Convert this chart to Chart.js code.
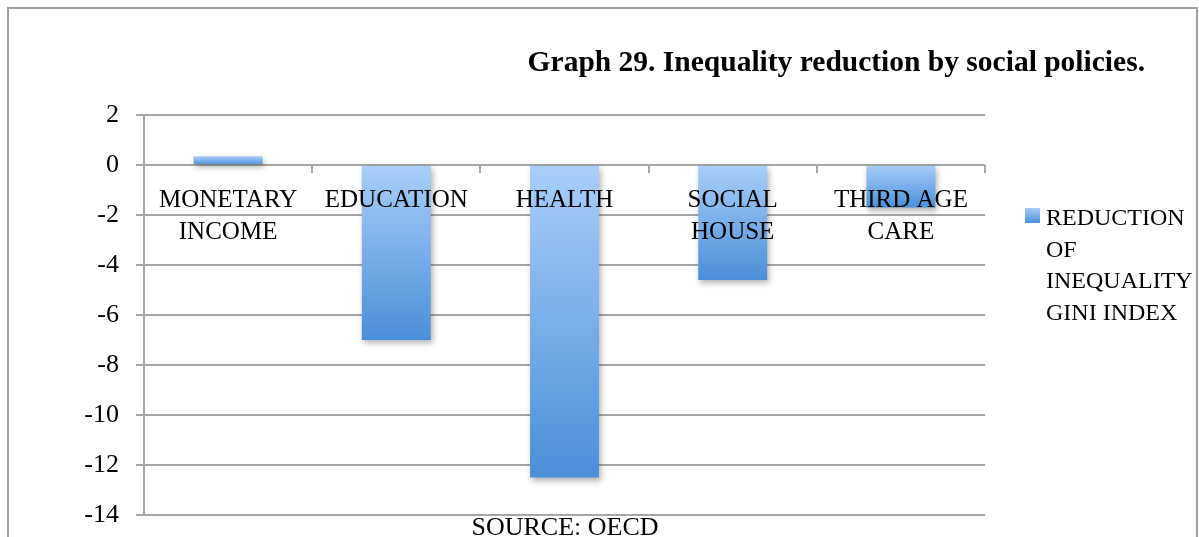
<!DOCTYPE html>
<html>
<head>
<meta charset="utf-8">
<script src="https://cdn.jsdelivr.net/npm/chart.js@4.4.1/dist/chart.umd.min.js"></script>
<style>
    body { margin: 0; background: #fff; }
    canvas { display: block; }
</style>
</head>
<body>
<canvas id="gini-chart" width="1199" height="537"></canvas>
<script>
const categories = [['MONETARY', 'INCOME'], ['EDUCATION'], ['HEALTH'], ['SOCIAL', 'HOUSE'], ['THIRD AGE', 'CARE']];
const giniReduction = [0.35, -7, -12.5, -4.6, -1.7];
const yTicks = [2, 0, -2, -4, -6, -8, -10, -12, -14];
const seriesName = ['REDUCTION', 'OF', 'INEQUALITY', 'GINI INDEX'];
const chartTitle = 'Graph 29. Inequality reduction by social policies.';
const sourceNote = 'SOURCE: OECD';

const GRID = '#a6a6a6';
const SERIF = '"Liberation Serif", "Times New Roman", serif';

function barGradient(ctx, top, bottom) {
    const g = ctx.createLinearGradient(0, top, 0, bottom);
    g.addColorStop(0, '#a9cefa');
    g.addColorStop(1, '#4a8fd8');
    return g;
}

// border, title, legend, category labels and source drawn around the plot
const decorations = {
    id: 'decorations',
    beforeDraw(chart) {
        const ctx = chart.ctx;
        ctx.save();
        ctx.strokeStyle = '#a0a0a0';
        ctx.lineWidth = 2;
        ctx.strokeRect(8, 8, 1189, 600);
        ctx.restore();
    },
    beforeDatasetsDraw(chart) {
        const ctx = chart.ctx;
        ctx.save();
        ctx.shadowColor = 'rgba(0, 0, 0, 0.3)';
        ctx.shadowBlur = 6;
        ctx.shadowOffsetX = 2;
        ctx.shadowOffsetY = 3;
    },
    afterDatasetsDraw(chart) {
        const ctx = chart.ctx;
        ctx.restore();
        const x = chart.scales.x;
        const y = chart.scales.y;
        const zero = y.getPixelForValue(0);
        const step = x.getPixelForValue(1) - x.getPixelForValue(0);

        ctx.save();
        // x axis tick marks between categories
        ctx.strokeStyle = GRID;
        ctx.lineWidth = 2;
        for (let i = 1; i <= categories.length; i++) {
            const px = Math.round(x.getPixelForValue(i) - step / 2);
            ctx.beginPath();
            ctx.moveTo(px, zero);
            ctx.lineTo(px, zero + 8);
            ctx.stroke();
        }

        // category labels just below zero line
        ctx.fillStyle = '#000';
        ctx.font = '25px ' + SERIF;
        ctx.textAlign = 'center';
        ctx.textBaseline = 'middle';
        categories.forEach((lines, i) => {
            const px = x.getPixelForValue(i);
            lines.forEach((t, j) => ctx.fillText(t, px, zero + 35 + j * 32));
        });

        // title
        ctx.font = 'bold 29.5px ' + SERIF;
        ctx.textAlign = 'right';
        ctx.textBaseline = 'alphabetic';
        ctx.fillText(chartTitle, 1145, 71);

        // legend
        ctx.fillStyle = barGradient(ctx, 208, 223);
        ctx.fillRect(1025, 208, 15, 15);
        ctx.fillStyle = '#000';
        ctx.font = '24px ' + SERIF;
        ctx.textAlign = 'left';
        ctx.textBaseline = 'middle';
        seriesName.forEach((t, j) => ctx.fillText(t, 1046, 219 + j * 31.5));

        // source
        ctx.font = '26px ' + SERIF;
        ctx.textAlign = 'center';
        ctx.textBaseline = 'alphabetic';
        ctx.fillText(sourceNote, 565, 535);
        ctx.restore();
    }
};

new Chart(document.getElementById('gini-chart'), {
    type: 'bar',
    data: {
        labels: categories.map(c => c.join(' ')),
        datasets: [{
            label: seriesName.join(' '),
            data: giniReduction,
            categoryPercentage: 1,
            barPercentage: 0.41,
            backgroundColor: (c) => {
                const chart = c.chart;
                if (!chart.chartArea || c.raw === undefined) return '#7aaee8';
                const y = chart.scales.y;
                const top = y.getPixelForValue(Math.max(0, c.raw));
                const bottom = y.getPixelForValue(Math.min(0, c.raw));
                return barGradient(chart.ctx, top, bottom);
            }
        }]
    },
    options: {
        responsive: false,
        animation: false,
        layout: { padding: { left: 0, top: 115, right: 214, bottom: 22 } },
        plugins: {
            legend: { display: false },
            tooltip: { enabled: false }
        },
        scales: {
            x: { display: false },
            y: {
                min: -14,
                max: 2,
                afterFit: (s) => {
                    s.width = 144;
                    s.paddingTop = 0;
                    s.paddingBottom = 0;
                },
                afterBuildTicks: (s) => { s.ticks = yTicks.map(v => ({ value: v })); },
                grid: { color: GRID, lineWidth: 2, tickLength: 8 },
                border: { color: GRID, width: 2 },
                ticks: {
                    color: '#000',
                    padding: 17,
                    font: { family: SERIF, size: 26 }
                }
            }
        }
    },
    plugins: [decorations]
});
</script>
</body>
</html>
